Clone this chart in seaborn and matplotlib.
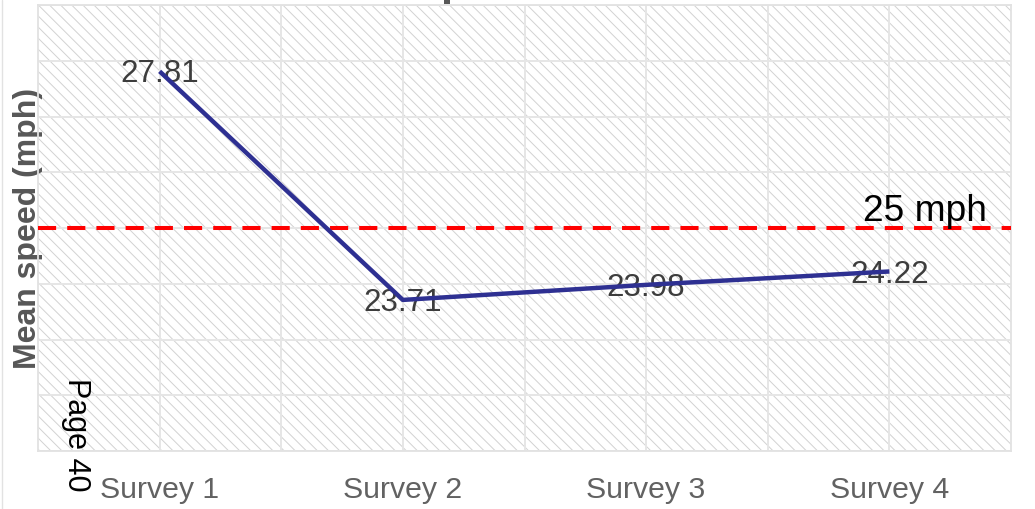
import matplotlib
matplotlib.use("Agg")
import matplotlib.pyplot as plt
from matplotlib.patches import Rectangle
from matplotlib.lines import Line2D
import seaborn as sns
import pandas as pd

# Survey results
surveys = ["Survey 1", "Survey 2", "Survey 3", "Survey 4"]
mean_speed = [27.81, 23.71, 23.98, 24.22]
speed_limit = 25
limit_label = "25 mph"
y_ticks = [21, 22, 23, 24, 25, 26, 27, 28, 29]

df = pd.DataFrame({"pos": range(1, len(surveys) + 1), "survey": surveys, "speed": mean_speed})

sns.set_theme(style="white")
plt.rcParams["font.family"] = ["Liberation Sans", "DejaVu Sans"]
plt.rcParams["hatch.linewidth"] = 0.7

W, H = 1035, 509
fig = plt.figure(figsize=(W / 100, H / 100), dpi=100)
ax = fig.add_axes([38 / W, 1 - 451 / H, (1011 - 38) / W, (451 - 5) / H])

# hatched panel background
ax.set_facecolor("white")
ax.add_patch(Rectangle((0, 0), 1, 1, transform=ax.transAxes, facecolor="white",
                       edgecolor="#D2D2D2", hatch="\\\\\\", linewidth=0, zorder=0))

sns.lineplot(data=df, x="pos", y="speed", ax=ax, color="#2E3092", linewidth=3.2,
             zorder=4, solid_capstyle="butt")

ax.axhline(speed_limit, color="#FF0000", linewidth=2.9, dashes=(4.5, 2.75), zorder=3)
ax.text(4.40, speed_limit + 0.13, limit_label, ha="right", va="baseline",
        fontsize=26.7, color="black", zorder=5)

# value labels centred on each point
for p, v in zip(df["pos"], df["speed"]):
    ax.annotate(f"{v:.2f}", xy=(p, v), xytext=(0, -8), textcoords="offset points",
                ha="center", va="baseline", fontsize=22.6, color="#3D3D3D", zorder=3.5)

ax.set_xlim(0.5, len(surveys) + 0.5)
ax.set_ylim(y_ticks[0], y_ticks[-1])
ax.set_xticks(df["pos"])
ax.set_xticklabels(surveys)
ax.set_xticks([1.5, 2.5, 3.5], minor=True)
ax.set_yticks(y_ticks)
ax.set_yticklabels([])
ax.tick_params(axis="both", which="both", length=0)
ax.tick_params(axis="x", pad=18, labelsize=21.8, labelcolor="#626262")
ax.set_axisbelow(True)
ax.grid(True, which="both", color="#E6E6E6", linewidth=1.4)

for s in ax.spines.values():
    s.set_visible(True)
    s.set_color("#E2E2E2")
    s.set_linewidth(1.3)

ax.set_xlabel("")
ax.set_ylabel("Mean speed (mph)", fontsize=23, fontweight="bold", color="#575757")
ax.yaxis.set_label_coords(0.005, 0.5)

fig.text(290 / W, 1 + 5 / H, "Mean speed", ha="left", va="baseline",
         fontsize=32, fontweight="bold", color="#575757")
fig.text(61 / W, 1 - 378 / H, "Page 40", ha="left", va="top", rotation=-90,
         fontsize=22, color="black")
fig.add_artist(Line2D([1.5 / W, 1.5 / W], [0, 1], color="#E2E2E2", linewidth=1))

fig.savefig("out.png", dpi=100)
